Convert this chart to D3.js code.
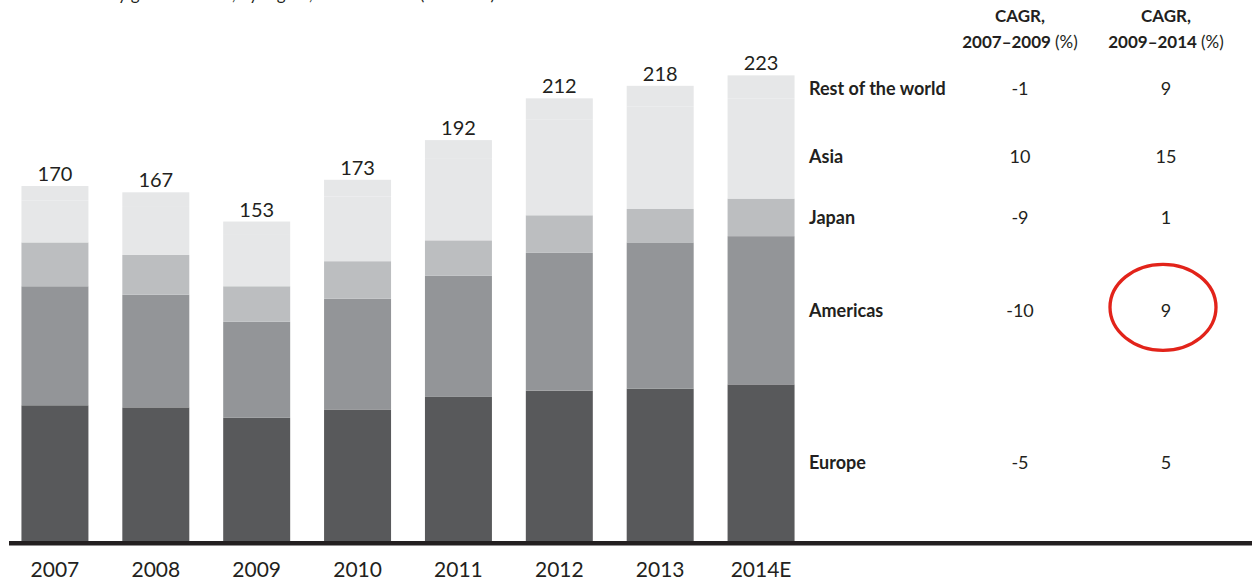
<html>
<meta charset="utf-8">
<body style="margin:0;background:#fff">
<script src="https://d3js.org/d3.v7.min.js"></script>
<div id="chart"></div>
<script>

// years on the x axis
var years = ["2007", "2008", "2009", "2010", "2011", "2012", "2013", "2014E"]
// regions, bottom to top of each stack
var regions = ["Europe", "Americas", "Japan", "Asia", "Rest of the world"]
// segment values per region (same order as years)
var europe   = [65, 64, 59, 63, 69, 72, 73, 75]
var americas = [57, 54, 46, 53, 58, 66, 70, 71]
var japan    = [21, 19, 17, 18, 17, 18, 16, 18]
var asia     = [20, 23, 25, 31, 39, 46, 49, 48]
var rest     = [7, 7, 6, 8, 9, 10, 10, 11]
// totals shown above bars
var totals = [170, 167, 153, 173, 192, 212, 218, 223]
// CAGR table
var cagr0709 = {"Rest of the world": "-1", "Asia": "10", "Japan": "-9", "Americas": "-10", "Europe": "-5"}
var cagr0914 = {"Rest of the world": "9", "Asia": "15", "Japan": "1", "Americas": "9", "Europe": "5"}

var W = 1252, H = 581
var base = 541
var font = "Lato, 'Open Sans', sans-serif"
var ink = "#231f20"

var colors = {
  "Europe": "#58595b",
  "Americas": "#939598",
  "Japan": "#bcbec0",
  "Asia": "#e6e7e8",
  "Rest of the world": "#e6e7e8"
}

var series = {"Europe": europe, "Americas": americas, "Japan": japan, "Asia": asia, "Rest of the world": rest}
var table = years.map(function(y, i) {
  var row = {year: y}
  regions.forEach(function(r) { row[r] = series[r][i] })
  return row
})
var stacked = d3.stack().keys(regions)(table)

var svg = d3.select("#chart").append("svg")
  .attr("width", W).attr("height", H)
  .style("display", "block")

var x = d3.scaleBand()
  .domain(years)
  .range([4.5, 811.5])
  .paddingInner(0.336)
  .paddingOuter(0.168)

var y = d3.scaleLinear()
  .domain([0, 250])
  .range([base, base - 250 * 2.088])

// title (cropped at top of the picture, as in the source)
svg.append("text")
  .attr("x", 28).attr("y", -0.5)
  .attr("font-family", font).attr("font-size", 17)
  .attr("fill", ink)
  .text("Global luxury goods market, by region, 2007–2014E (€ billions)")

// stacked bars
var layer = svg.selectAll(".layer")
  .data(stacked)
  .enter().append("g")
    .attr("fill", function(d) { return colors[d.key] })

layer.selectAll("rect")
  .data(function(d) { return d })
  .enter().append("rect")
    .attr("x", function(d) { return x(d.data.year) })
    .attr("width", x.bandwidth())
    .attr("y", function(d) { return y(d[1]) })
    .attr("height", function(d) { return y(d[0]) - y(d[1]) })

// white inner box for "Rest of the world"
var top = stacked[stacked.length - 1]
var bw = 3
svg.append("g").selectAll("rect")
  .data(top)
  .enter().append("rect")
    .attr("fill", "#fff")
    .attr("x", function(d) { return x(d.data.year) + bw })
    .attr("width", x.bandwidth() - 2 * bw)
    .attr("y", function(d) { return y(d[1]) + bw })
    .attr("height", function(d) { return Math.max(0, y(d[0]) - y(d[1]) - bw) })

// totals
svg.append("g").selectAll("text")
  .data(totals)
  .enter().append("text")
    .attr("x", function(d, i) { return x(years[i]) + x.bandwidth() / 2 })
    .attr("y", function(d) { return y(d) - 5 })
    .attr("text-anchor", "middle")
    .attr("font-family", font).attr("font-size", 20)
    .attr("fill", ink)
    .text(function(d) { return d })

// baseline
svg.append("line")
  .attr("x1", 9).attr("x2", W)
  .attr("y1", base + 2.2).attr("y2", base + 2.2)
  .attr("stroke", ink).attr("stroke-width", 4.5)

// x axis labels
var xAxis = svg.append("g")
  .attr("transform", "translate(0," + base + ")")
  .call(d3.axisBottom(x).tickSize(0).tickPadding(21))
xAxis.select(".domain").remove()
xAxis.selectAll("text")
  .attr("font-family", font).attr("font-size", 21)
  .attr("fill", ink)

// right-hand table
var labelX = 809, col1 = 1020, col2 = 1166
var lastYear = years[years.length - 1]
var nudge = {"Asia": 8, "Rest of the world": 2}
function rowY(r) {
  var s = stacked[regions.indexOf(r)].find(function(d) { return d.data.year == lastYear })
  return (y(s[0]) + y(s[1])) / 2 + (nudge[r] || 0)
}

var rows = svg.append("g").selectAll("g")
  .data(regions)
  .enter().append("g")
    .attr("transform", function(r) { return "translate(0," + rowY(r) + ")" })

rows.append("text")
  .attr("x", labelX).attr("dy", "0.35em")
  .attr("font-family", font).attr("font-size", 18).attr("font-weight", "bold")
  .attr("fill", ink)
  .text(function(r) { return r })

rows.append("text")
  .attr("x", col1).attr("dy", "0.35em").attr("text-anchor", "middle")
  .attr("font-family", font).attr("font-size", 18)
  .attr("fill", ink)
  .text(function(r) { return cagr0709[r] })

rows.append("text")
  .attr("x", col2).attr("dy", "0.35em").attr("text-anchor", "middle")
  .attr("font-family", font).attr("font-size", 18)
  .attr("fill", ink)
  .text(function(r) { return cagr0914[r] })

// column headers
var headers = [[col1, "2007–2009"], [col2, "2009–2014"]]
headers.forEach(function(h) {
  var t = svg.append("text")
    .attr("x", h[0]).attr("text-anchor", "middle")
    .attr("font-family", font).attr("font-size", 17).attr("font-weight", "bold")
    .attr("fill", ink)
  t.append("tspan").attr("x", h[0]).attr("y", 22).text("CAGR,")
  var l2 = t.append("tspan").attr("x", h[0]).attr("y", 48)
  l2.append("tspan").text(h[1] + " ")
  l2.append("tspan").attr("font-weight", "normal").text("(%)")
})

// highlight circle around Americas 2009–2014
svg.append("ellipse")
  .attr("cx", col2 - 3).attr("cy", rowY("Americas") - 3)
  .attr("rx", 53).attr("ry", 43)
  .attr("fill", "none")
  .attr("stroke", "#e2231a").attr("stroke-width", 3.3)

</script>
</body>
</html>
